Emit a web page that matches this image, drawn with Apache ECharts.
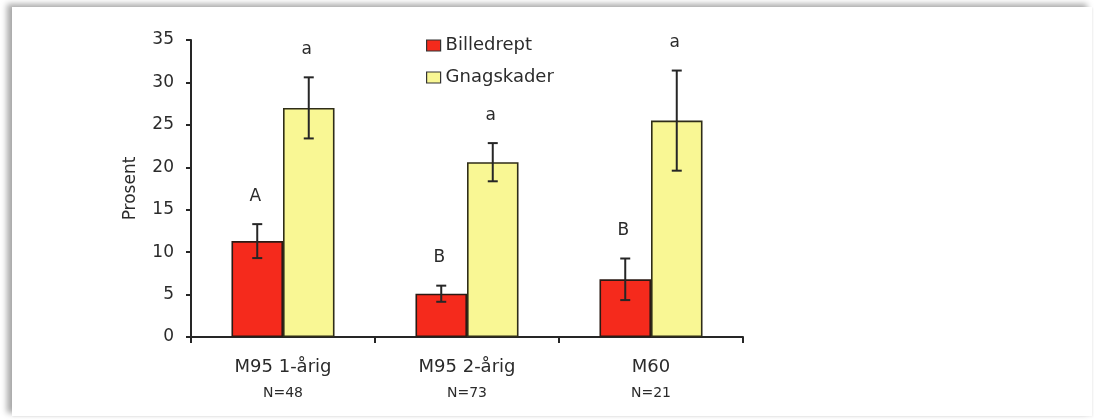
<!DOCTYPE html>
<html>
<head>
<meta charset="utf-8">
<script src="https://cdn.jsdelivr.net/npm/echarts@6/dist/echarts.min.js"></script>
<style>
  html, body { margin: 0; padding: 0; background: #ffffff; }
  #frame {
    position: absolute; left: 12px; top: 7px; width: 1080px; height: 409px;
    background: #ffffff;
    box-shadow: -5px -3px 6px rgba(0,0,0,0.34), 1px 1px 2px rgba(0,0,0,0.06);
  }
  #chart { position: absolute; left: 0; top: 0; width: 1094px; height: 420px; }
</style>
</head>
<body>
<div id="frame"></div>
<div id="chart"></div>
<script>
// Treatment groups and their sample sizes
const categories = ['M95 1-årig', 'M95 2-årig', 'M60'];
const sampleSizes = ['N=48', 'N=73', 'N=21'];

// Percent of plants killed by beetles, with standard error
const billedrept = [11.3, 5.1, 6.8];
const billedreptErr = [2.0, 0.95, 2.45];
const billedreptLetters = ['A', 'B', 'B'];

// Percent of plants with gnawing damage, with standard error
const gnagskader = [27.0, 20.6, 25.5];
const gnagskaderErr = [3.6, 2.25, 5.9];
const gnagskaderLetters = ['a', 'a', 'a'];

// Value axis range
const yMin = 0, yMax = 35, yStep = 5;

const FONT = 'DejaVu Sans';
const INK = '#262626';
const TEXT = '#2b2b2b';
const BAR_SHARE = 0.28;

// Error bar with cap and significance letter, drawn over one bar of each group
function errorSeries(values, errors, letters, side) {
  return {
    type: 'custom',
    z: 5,
    silent: true,
    data: values.map((v, i) => [i, v, errors[i]]),
    renderItem: function (params, api) {
      const i = api.value(0);
      const v = api.value(1);
      const e = api.value(2);
      const catW = api.size([1, 0])[0];
      const x = api.coord([i, 0])[0] + side * catW * BAR_SHARE / 2;
      const yTop = api.coord([i, v + e])[1];
      const yBot = api.coord([i, v - e])[1];
      const cap = 5;
      const st = { stroke: INK, lineWidth: 2 };
      return {
        type: 'group',
        children: [
          { type: 'line', shape: { x1: x, y1: yTop, x2: x, y2: yBot }, style: st },
          { type: 'line', shape: { x1: x - cap, y1: yTop, x2: x + cap, y2: yTop }, style: st },
          { type: 'line', shape: { x1: x - cap, y1: yBot, x2: x + cap, y2: yBot }, style: st },
          {
            type: 'text',
            style: {
              x: x - 2, y: yTop - 28, text: letters[params.dataIndex],
              fill: TEXT, font: '17px "' + FONT + '"',
              align: 'center', verticalAlign: 'middle'
            }
          }
        ]
      };
    }
  };
}

const chart = echarts.init(document.getElementById('chart'), null, { renderer: 'canvas' });

chart.setOption({
  animation: false,
  textStyle: { fontFamily: FONT },
  grid: { left: 191, right: 351, top: 40, bottom: 83, containLabel: false },
  legend: {
    orient: 'vertical',
    left: 421, top: 30,
    itemWidth: 14, itemHeight: 11, itemGap: 11,
    icon: 'rect',
    itemStyle: { borderColor: '#333', borderWidth: 1.2 },
    textStyle: { fontFamily: FONT, fontSize: 18, color: TEXT, lineHeight: 21, padding: [0, 0, 0, 0] },
    data: ['Billedrept', 'Gnagskader']
  },
  xAxis: {
    type: 'category',
    data: categories,
    axisLine: { lineStyle: { color: INK, width: 2 } },
    axisTick: { show: true, alignWithLabel: false, length: 6, inside: false, lineStyle: { color: INK, width: 2 } },
    axisLabel: {
      margin: 19,
      interval: 0,
      formatter: function (val, idx) {
        return '{m|' + val + '}\n{n|' + sampleSizes[idx] + '}';
      },
      rich: {
        m: { fontFamily: FONT, fontSize: 18, color: TEXT, lineHeight: 22 },
        n: { fontFamily: FONT, fontSize: 14, color: TEXT, lineHeight: 30 }
      }
    },
    splitLine: { show: false }
  },
  yAxis: {
    type: 'value',
    min: yMin, max: yMax, interval: yStep,
    name: 'Prosent',
    nameLocation: 'middle',
    nameGap: 52,
    nameRotate: 90,
    nameTextStyle: { fontFamily: FONT, fontSize: 17, color: TEXT },
    axisLine: { show: true, lineStyle: { color: INK, width: 2 } },
    axisTick: { show: true, length: 5, inside: false, lineStyle: { color: INK, width: 2 } },
    axisLabel: { margin: 17, fontFamily: FONT, fontSize: 17, color: TEXT },
    splitLine: { show: false }
  },
  series: [
    {
      name: 'Billedrept',
      type: 'bar',
      data: billedrept,
      barWidth: (BAR_SHARE * 100) + '%',
      barGap: '0%',
      itemStyle: { color: '#f52a1c', borderColor: '#2b1a14', borderWidth: 1.6 }
    },
    {
      name: 'Gnagskader',
      type: 'bar',
      data: gnagskader,
      barWidth: (BAR_SHARE * 100) + '%',
      barGap: '0%',
      itemStyle: { color: '#f9f794', borderColor: '#2f2d18', borderWidth: 1.6 }
    },
    errorSeries(billedrept, billedreptErr, billedreptLetters, -1),
    errorSeries(gnagskader, gnagskaderErr, gnagskaderLetters, 1)
  ]
});
</script>
</body>
</html>
